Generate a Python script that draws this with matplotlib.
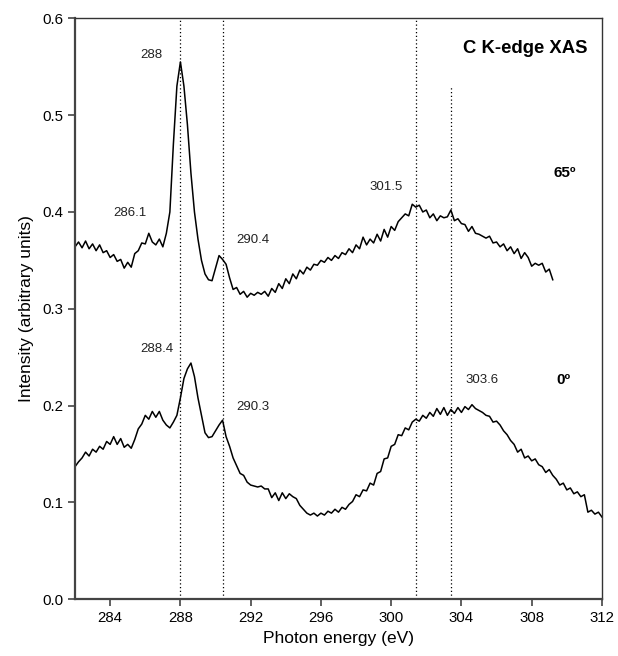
import numpy as np
import matplotlib
matplotlib.use("Agg")
import matplotlib.pyplot as plt

plt.rcParams['font.family'] = ['Liberation Sans', 'DejaVu Sans']

# Photon energy grid (eV), 0.2 eV steps
energy = np.round(np.linspace(282.0, 312.0, 151), 1)

# C K-edge XAS intensity at 65 deg incidence (scan stops at 309.2 eV)
xas_65 = [
    0.364, 0.369, 0.363, 0.370, 0.362, 0.367, 0.360, 0.366, 0.358, 0.360,
    0.353, 0.356, 0.349, 0.351, 0.342, 0.348, 0.343, 0.357, 0.360, 0.368,
    0.367, 0.378, 0.369, 0.366, 0.372, 0.364, 0.378, 0.400, 0.470, 0.530,
    0.555, 0.530, 0.490, 0.440, 0.400, 0.372, 0.350, 0.336, 0.330, 0.329,
    0.342, 0.355, 0.351, 0.346, 0.332, 0.320, 0.322, 0.315, 0.318, 0.312,
    0.316, 0.314, 0.317, 0.315, 0.318, 0.313, 0.321, 0.317, 0.326, 0.321,
    0.331, 0.326, 0.336, 0.331, 0.340, 0.336, 0.343, 0.340, 0.346, 0.345,
    0.350, 0.348, 0.353, 0.350, 0.355, 0.352, 0.358, 0.356, 0.362, 0.358,
    0.366, 0.362, 0.374, 0.366, 0.372, 0.368, 0.377, 0.370, 0.382, 0.374,
    0.385, 0.381, 0.390, 0.394, 0.398, 0.396, 0.408, 0.405, 0.407, 0.400,
    0.402, 0.394, 0.398, 0.391, 0.396, 0.394, 0.395, 0.402, 0.391, 0.393,
    0.388, 0.387, 0.380, 0.385, 0.378, 0.377, 0.375, 0.373, 0.375, 0.368,
    0.369, 0.364, 0.367, 0.360, 0.364, 0.357, 0.362, 0.352, 0.358, 0.353,
    0.344, 0.347, 0.345, 0.347, 0.338, 0.341, 0.330,
]

# C K-edge XAS intensity at normal incidence (0 deg)
xas_0 = [
    0.137, 0.142, 0.146, 0.152, 0.148, 0.155, 0.152, 0.158, 0.155, 0.163,
    0.160, 0.168, 0.160, 0.166, 0.157, 0.160, 0.156, 0.165, 0.176, 0.181,
    0.190, 0.186, 0.194, 0.188, 0.194, 0.185, 0.180, 0.177, 0.183, 0.190,
    0.208, 0.228, 0.238, 0.244, 0.230, 0.208, 0.190, 0.172, 0.167, 0.168,
    0.174, 0.180, 0.185, 0.168, 0.158, 0.146, 0.138, 0.130, 0.128, 0.121,
    0.118, 0.117, 0.116, 0.117, 0.114, 0.114, 0.105, 0.110, 0.102, 0.110,
    0.104, 0.109, 0.106, 0.104, 0.097, 0.093, 0.089, 0.087, 0.089, 0.086,
    0.089, 0.087, 0.091, 0.089, 0.093, 0.090, 0.095, 0.093, 0.098, 0.101,
    0.108, 0.106, 0.113, 0.112, 0.120, 0.118, 0.130, 0.132, 0.145, 0.146,
    0.158, 0.160, 0.170, 0.169, 0.177, 0.175, 0.183, 0.186, 0.184, 0.190,
    0.187, 0.193, 0.189, 0.197, 0.191, 0.198, 0.190, 0.196, 0.192, 0.198,
    0.193, 0.199, 0.196, 0.201, 0.197, 0.195, 0.193, 0.190, 0.189, 0.183,
    0.184, 0.180, 0.174, 0.170, 0.164, 0.160, 0.152, 0.155, 0.146, 0.148,
    0.143, 0.145, 0.139, 0.137, 0.131, 0.134, 0.128, 0.124, 0.118, 0.120,
    0.113, 0.115, 0.109, 0.111, 0.106, 0.108, 0.090, 0.092, 0.088, 0.090,
    0.085,
]

# Resonance markers: position and how far up the dotted guide runs
marker_pos = [288.0, 290.4, 301.4, 303.4]
marker_top = [0.6, 0.6, 0.6, 0.53]

# Peak annotations (text, x, y)
peak_labels = [
    ("288", 286.33, 0.562),
    ("286.1", 285.1, 0.399),
    ("290.4", 292.15, 0.371),
    ("301.5", 299.7, 0.426),
    ("288.4", 286.65, 0.258),
    ("290.3", 292.15, 0.199),
    ("303.6", 305.15, 0.2265),
]
angle_labels = [("65º", 309.87, 0.44), ("0º", 309.83, 0.2265)]

fig = plt.figure(figsize=(6.18, 6.56), dpi=100)
ax = fig.add_axes([0.1214, 0.0864, 0.8526, 0.8857])

ax.vlines(marker_pos, 0, marker_top, colors="black", linestyles=(0, (1, 2)), lw=0.9)

ax.plot(energy[:len(xas_65)], xas_65, color="black", lw=1.1)
ax.plot(energy[:len(xas_0)], xas_0, color="black", lw=1.1)

for txt, x, y in peak_labels:
    ax.text(x, y, txt, ha="center", va="center", fontsize=9.5, color="#222222")
for txt, x, y in angle_labels:
    ax.text(x, y, txt, ha="center", va="center", fontsize=11, fontweight="bold")
ax.text(311.2, 0.569, "C K-edge XAS", ha="right", va="center",
        fontsize=13.3, fontweight="bold")

ax.set_xlim(282, 312)
ax.set_ylim(0, 0.6)
ax.set_xticks(np.arange(284, 313, 4))
ax.set_yticks(np.arange(0, 0.61, 0.1))
ax.yaxis.set_major_formatter(matplotlib.ticker.FormatStrFormatter("%.1f"))
ax.tick_params(direction="out", length=5, width=1.2, labelsize=10.8, color="#444444")
ax.set_xlabel("Photon energy (eV)", fontsize=12.5, labelpad=4)
ax.set_ylabel("Intensity (arbitrary units)", fontsize=12.5, labelpad=6)

for side in ("left", "bottom"):
    ax.spines[side].set_linewidth(1.6)
    ax.spines[side].set_color("#444444")
for side in ("top", "right"):
    ax.spines[side].set_linewidth(1.0)
    ax.spines[side].set_color("#333333")

fig.savefig("out.png", dpi=100)
